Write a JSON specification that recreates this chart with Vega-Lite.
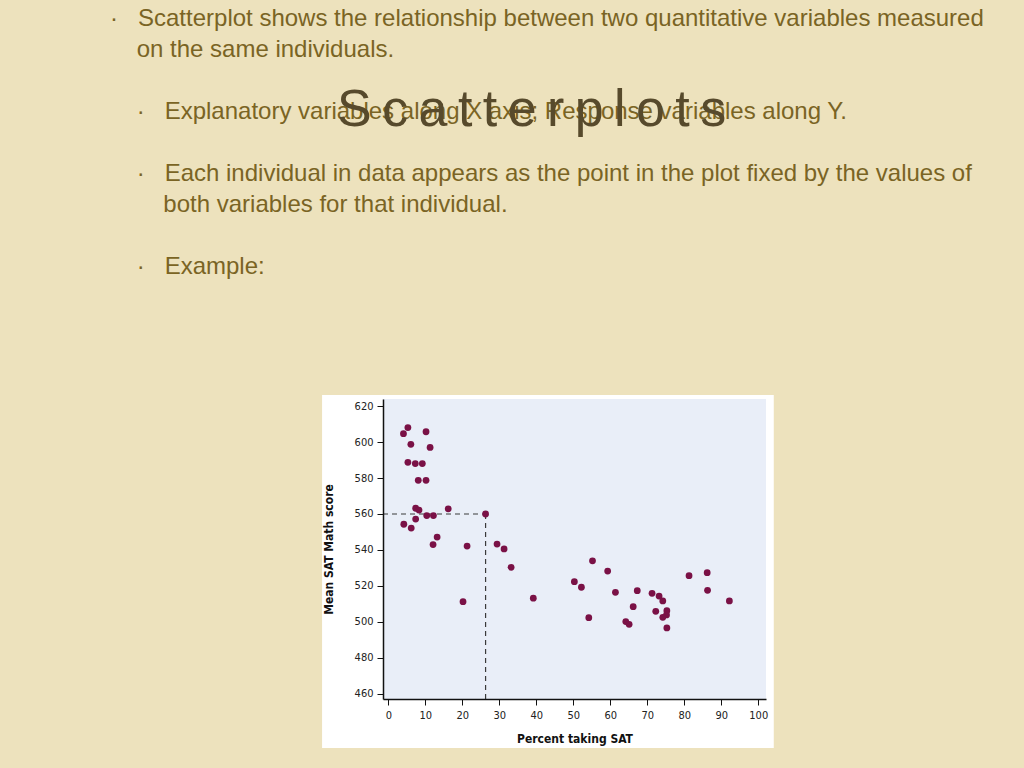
{
  "$schema": "https://vega.github.io/schema/vega-lite/v6.json",
  "width": 383,
  "height": 300,
  "autosize": {"type": "none"},
  "padding": {"left": 383, "top": 399, "right": 258, "bottom": 69},
  "background": "#ede2bd",
  "title": {
    "text": [
      "\u200b·\u00a0\u00a0\u00a0Scatterplot shows the relationship between two quantitative variables measured",
      "\u200b\u00a0\u00a0\u00a0\u00a0on the same individuals.",
      "\u200b\u00a0\u200b",
      "\u200b\u00a0\u00a0\u00a0\u00a0·\u00a0\u00a0\u00a0Explanatory variables along X axis; Response variables along Y.",
      "\u200b\u00a0\u200b",
      "\u200b\u00a0\u00a0\u00a0\u00a0·\u00a0\u00a0\u00a0Each individual in data appears as the point in the plot fixed by the values of",
      "\u200b\u00a0\u00a0\u00a0\u00a0\u00a0\u00a0\u00a0\u00a0both variables for that individual.",
      "\u200b\u00a0\u200b",
      "\u200b\u00a0\u00a0\u00a0\u00a0·\u00a0\u00a0\u00a0Example:"
    ],
    "subtitle": "\u200b\u00a0\u00a0\u00a0\u00a0\u00a0\u00a0\u00a0\u00a0\u00a0\u00a0\u00a0\u00a0\u00a0\u00a0\u00a0\u2009S\u2009c\u2009a\u2009t\u2009t\u2009e\u2009r\u2009p\u2009l\u2009o\u2009t\u2009s",
    "anchor": "start",
    "frame": "group",
    "dx": -273,
    "dy": -116,
    "offset": 0,
    "font": "Liberation Sans",
    "fontSize": 24,
    "fontWeight": "normal",
    "lineHeight": 31,
    "color": "#7a6424",
    "subtitleFont": "Liberation Sans",
    "subtitleFontSize": 52,
    "subtitleColor": "#574a2c",
    "subtitlePadding": -194
  },
  "data": {
    "values": [
      {"pct": 4.1, "math": 604.6}, {"pct": 5.3, "math": 608}, {"pct": 10.2, "math": 605.7},
      {"pct": 6.1, "math": 598.7}, {"pct": 11.3, "math": 597}, {"pct": 5.3, "math": 588.7},
      {"pct": 7.3, "math": 588}, {"pct": 9.2, "math": 588}, {"pct": 8.1, "math": 578.7},
      {"pct": 10.2, "math": 578.7}, {"pct": 7.4, "math": 563.2}, {"pct": 8.3, "math": 562.2},
      {"pct": 16.2, "math": 562.9}, {"pct": 4.2, "math": 554.3}, {"pct": 6.2, "math": 552.2},
      {"pct": 7.4, "math": 557.2}, {"pct": 10.4, "math": 559.1}, {"pct": 12.2, "math": 559.1},
      {"pct": 13.2, "math": 547.2}, {"pct": 12.1, "math": 543}, {"pct": 21.3, "math": 542.2},
      {"pct": 26.3, "math": 560}, {"pct": 29.4, "math": 543.3}, {"pct": 31.3, "math": 540.6},
      {"pct": 33.2, "math": 530.4}, {"pct": 20.2, "math": 511.3}, {"pct": 39.2, "math": 513.2},
      {"pct": 55.2, "math": 534}, {"pct": 59.3, "math": 528.3}, {"pct": 50.3, "math": 522.4},
      {"pct": 52.2, "math": 519.3}, {"pct": 54.2, "math": 502.4}, {"pct": 61.4, "math": 516.5},
      {"pct": 67.3, "math": 517.4}, {"pct": 66.2, "math": 508.5}, {"pct": 64.2, "math": 500.2},
      {"pct": 65.1, "math": 498.7}, {"pct": 71.3, "math": 515.9}, {"pct": 73.2, "math": 514.4},
      {"pct": 74.2, "math": 511.7}, {"pct": 72.3, "math": 505.9}, {"pct": 75.3, "math": 506.3},
      {"pct": 75.2, "math": 503.9}, {"pct": 74.2, "math": 502.6}, {"pct": 75.3, "math": 496.7},
      {"pct": 81.3, "math": 525.7}, {"pct": 86.2, "math": 527.4}, {"pct": 86.3, "math": 517.6},
      {"pct": 92.2, "math": 511.7}
    ]
  },
  "resolve": {"axis": {"x": "independent", "y": "independent"}},
  "layer": [
    {
      "data": {"values": [{}]},
      "mark": {"type": "rect", "fill": "#ffffff", "clip": false},
      "encoding": {
        "x": {"datum": -17.9, "type": "quantitative", "axis": null},
        "x2": {"datum": 104.2},
        "y": {"datum": 626.1, "type": "quantitative", "axis": null},
        "y2": {"datum": 430}
      }
    },
    {
      "data": {"values": [{}]},
      "mark": {"type": "rect", "fill": "#e9eef8", "clip": false},
      "encoding": {
        "x": {"datum": -1.43, "type": "quantitative", "axis": null},
        "x2": {"datum": 102.1},
        "y": {"datum": 623.9, "type": "quantitative", "axis": null},
        "y2": {"datum": 457.2}
      }
    },
    {
      "data": {"values": [{}]},
      "mark": {"type": "rule", "color": "#3a3a3a", "strokeDash": [5, 4], "strokeWidth": 1.2},
      "encoding": {
        "y": {"datum": 560, "type": "quantitative", "axis": null},
        "x": {"datum": -1.43, "type": "quantitative", "axis": null},
        "x2": {"datum": 26.3}
      }
    },
    {
      "data": {"values": [{}]},
      "mark": {"type": "rule", "color": "#3a3a3a", "strokeDash": [5, 4], "strokeWidth": 1.2},
      "encoding": {
        "x": {"datum": 26.3, "type": "quantitative", "axis": null},
        "y": {"datum": 457.2, "type": "quantitative", "axis": null},
        "y2": {"datum": 560}
      }
    },
    {
      "mark": {"type": "circle", "color": "#7a1146", "opacity": 1, "size": 46},
      "encoding": {
        "x": {
          "field": "pct", "type": "quantitative",
          "scale": {"domain": [-1.43, 102.1], "nice": false, "zero": false},
          "axis": {"zindex": 2, "labelOverlap": false, "title": "Percent taking SAT", "values": [0, 10, 20, 30, 40, 50, 60, 70, 80, 90, 100]}
        },
        "y": {
          "field": "math", "type": "quantitative",
          "scale": {"domain": [457.2, 623.9], "nice": false, "zero": false},
          "axis": {"zindex": 2, "labelOverlap": false, "title": "Mean SAT Math score", "values": [460, 480, 500, 520, 540, 560, 580, 600, 620]}
        }
      }
    }
  ],
  "config": {
    "view": {"stroke": null},
    "axis": {
      "grid": false,
      "domainColor": "#111111",
      "domainWidth": 1.5,
      "tickColor": "#111111",
      "tickSize": 6,
      "tickWidth": 1,
      "labelFont": "DejaVu Sans Condensed, Liberation Sans",
      "labelFontSize": 11,
      "labelColor": "#222222",
      "labelPadding": 4,
      "titleFont": "DejaVu Sans Condensed, Liberation Sans",
      "titleFontSize": 12,
      "titleFontWeight": "bold",
      "titleColor": "#111111"
    },
    "axisX": {"titlePadding": 13},
    "axisY": {"titlePadding": 19}
  }
}
